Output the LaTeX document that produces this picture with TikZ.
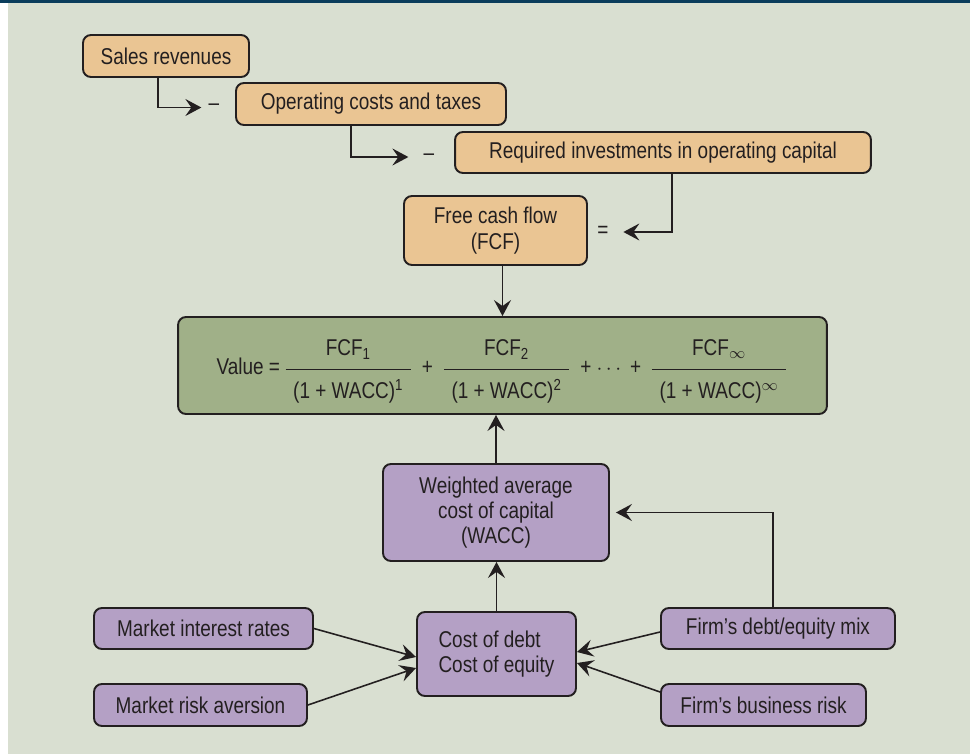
\documentclass[tikz,border=0pt]{standalone}
\usepackage{amsmath}
\usepackage{fontspec}
\setmainfont{Liberation Sans}[FakeStretch=0.83]
\usetikzlibrary{arrows.meta}

\definecolor{bgcol}{HTML}{D9DFD1}
\definecolor{bandcol}{HTML}{0B3D5C}
\definecolor{cashcol}{HTML}{EAC593}
\definecolor{valcol}{HTML}{A0B088}
\definecolor{ratecol}{HTML}{B4A0C5}
\definecolor{inkcol}{HTML}{231F20}

\newcommand{\flowfrac}[2]{$\dfrac{\rule[-0.9ex]{0pt}{3.2ex}\text{#1}}{\rule{0pt}{2.15ex}\text{\,\,#2\,\,}}$}

\begin{document}
\begin{tikzpicture}[x=0.02cm, y=-0.02cm, font=\fontsize{13}{14.4}\selectfont, text=inkcol]
        \tikzstyle{every node} = [rectangle]
        \tikzstyle{box} = [draw=inkcol, line width=1.1pt, rounded corners=4.5pt, inner sep=0pt, align=center]
        \tikzstyle{cashbox} = [box, fill=cashcol]
        \tikzstyle{valbox} = [box, fill=valcol]
        \tikzstyle{ratebox} = [box, fill=ratecol]
        \tikzstyle{sign} = [inner sep=0pt]
        \tikzstyle{link} = [-{Stealth[length=0.32cm, width=0.34cm, inset=0.12cm]}, line width=0.9pt, draw=inkcol]
        % background
        \fill[bgcol] (8,0) rectangle (970,754);
        \fill[bandcol] (0,0) rectangle (970,3);
        \useasboundingbox (0,0) rectangle (975,754);
        % free cash flow
        \node[cashbox, minimum width=3.32cm, minimum height=0.84cm] (sales) at (166,56) {Sales revenues};
        \node[cashbox, minimum width=5.4cm, minimum height=0.84cm] (opcost) at (371,104) {Operating costs and taxes};
        \node[cashbox, minimum width=8.32cm, minimum height=0.82cm] (reqinv) at (663,152.5) {Required investments in operating capital};
        \node[cashbox, minimum width=3.66cm, minimum height=1.38cm] (fcf) at (495.5,230.5) {Free cash flow\\(FCF)};
        \node[sign] (minA) at (214,107.5) {\textendash};
        \node[sign] (minB) at (429,157) {\textendash};
        \node[sign] (eq) at (603,232) {=};
        % value
        \node[valbox, minimum width=12.98cm, minimum height=1.94cm] (value) at (502.5,365.5)
            {Value =\hspace{2pt}\flowfrac{FCF\textsubscript{1}}{(1 + WACC)\textsuperscript{1}}\hspace{5pt}+\hspace{5pt}%
             \flowfrac{FCF\textsubscript{2}}{(1 + WACC)\textsuperscript{2}}\hspace{5pt}+ $\cdots$ +\hspace{5pt}%
             \flowfrac{FCF\textsubscript{$\infty$}}{(1 + WACC)\textsuperscript{$\infty$}}};
        % cost of capital
        \node[ratebox, minimum width=4.52cm, minimum height=1.94cm] (wacc) at (496,512.5) {Weighted average\\cost of capital\\(WACC)};
        \node[ratebox, minimum width=3.18cm, minimum height=1.68cm, align=left] (cost) at (496.5,654) {Cost of debt\\Cost of equity};
        \node[ratebox, minimum width=4.38cm, minimum height=0.82cm] (mir) at (203.5,628.5) {Market interest rates};
        \node[ratebox, minimum width=4.26cm, minimum height=0.84cm] (mra) at (200.5,705) {Market risk aversion};
        \node[ratebox, minimum width=4.68cm, minimum height=0.82cm] (fdm) at (778,628.5) {Firm’s debt/equity mix};
        \node[ratebox, minimum width=4.1cm, minimum height=0.84cm] (fbr) at (763.5,705) {Firm’s business risk};
        % connectors
        \draw[link, shorten >=0.14cm] ([xshift=-0.16cm]sales.south) |- (minA);
        \draw[link, shorten >=0.3cm] ([xshift=-0.4cm]opcost.south) |- (minB);
        \draw[link, shorten >=0.29cm] ([xshift=0.18cm]reqinv.south) |- (eq);
        \draw[link] (value.north |- fcf.south) -- (value.north);
        \foreach \from/\to in {wacc/value, cost/wacc}
            \draw[link] (\from.north) -- (\from.north |- \to.south);
        \draw[link, shorten >=0.12cm] ([xshift=-0.1cm]fdm.north) |- (wacc.east);
        \draw[link] (mir.east) -- ([yshift=-0.06cm]cost.west);
        \draw[link] (mra.east) -- ([yshift=-0.28cm]cost.west);
        \draw[link] ([yshift=-0.07cm]fdm.west) -- ([yshift=0.04cm]cost.east);
        \draw[link] ([yshift=0.26cm]fbr.west) -- ([yshift=-0.18cm]cost.east);
\end{tikzpicture}
\end{document}
